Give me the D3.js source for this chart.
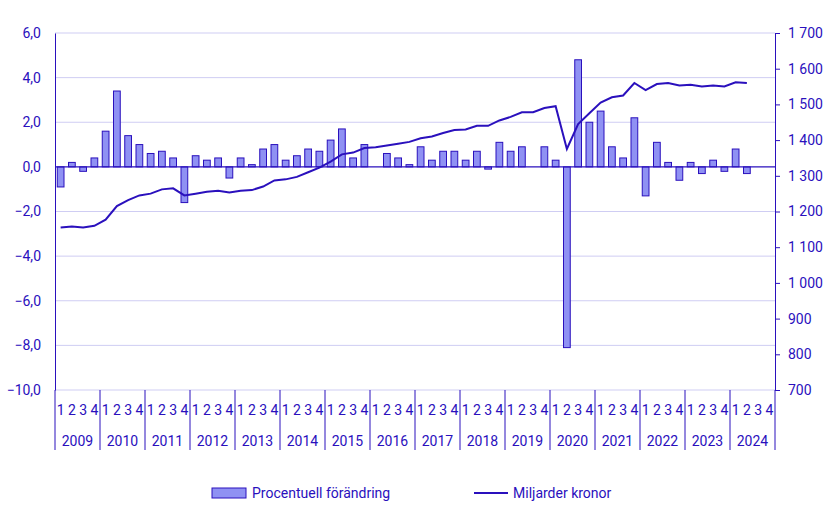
<!DOCTYPE html><html><head><meta charset="utf-8">
<script src="https://cdn.jsdelivr.net/npm/d3@7"></script>
<style>body{margin:0;background:#fff}text{font-family:Roboto,sans-serif}</style></head><body>
<svg id="c" width="831" height="507"></svg>
<script>
const years=[2009,2010,2011,2012,2013,2014,2015,2016,2017,2018,2019,2020,2021,2022,2023,2024];
const quarters=["1","2","3","4"];
const pctChange=[-0.9,0.2,-0.2,0.4, 1.6,3.4,1.4,1.0, 0.6,0.7,0.4,-1.6, 0.5,0.3,0.4,-0.5, 0.4,0.1,0.8,1.0, 0.3,0.5,0.8,0.7, 1.2,1.7,0.4,1.0, 0,0.6,0.4,0.1, 0.9,0.3,0.7,0.7, 0.3,0.7,-0.1,1.1, 0.7,0.9,0,0.9, 0.3,-8.1,4.8,2.0, 2.5,0.9,0.4,2.2, -1.3,1.1,0.2,-0.6, 0.2,-0.3,0.3,-0.2, 0.8,-0.3,null,null];
const billions=[1155,1158,1155,1160, 1177,1215,1232,1245, 1250,1262,1265,1245, 1250,1255,1258,1253, 1258,1260,1270,1287, 1290,1297,1310,1323, 1340,1360,1365,1378, 1380,1385,1390,1395, 1405,1410,1420,1428, 1430,1440,1440,1455, 1465,1478,1478,1490, 1495,1375,1445,1475, 1505,1520,1525,1560, 1540,1557,1560,1553, 1555,1550,1553,1550, 1562,1560,null,null];
const leftTicks=[6,4,2,0,-2,-4,-6,-8,-10];
const rightTicks=[700,800,900,1000,1100,1200,1300,1400,1500,1600,1700];
const C="#2a10bd";
const svg=d3.select("#c");
const X0=55,X1=775,Y0=33,Y1=390;
const keys=[];years.forEach(y=>quarters.forEach(q=>keys.push(y+"-"+q)));
const x=d3.scaleBand().domain(keys).range([X0,X1]).paddingInner(0.4).paddingOuter(0.2);
const yL=d3.scaleLinear().domain([-10,6]).range([Y1,Y0]);
const yR=d3.scaleLinear().domain([700,1700]).range([Y1,Y0]);
const fmt=v=>d3.format(".1f")(v).replace(".",",").replace("-","-");
const fmtR=v=>String(v).replace(/\B(?=(\d{3})+(?!\d))/g," ");
svg.append("g").selectAll("line").data(leftTicks.filter(t=>t!==0)).join("line")
 .attr("x1",X0).attr("x2",X1).attr("y1",d=>yL(d)).attr("y2",d=>yL(d)).attr("stroke","#cfcdf3");
const la=svg.append("g").attr("transform",`translate(${X0},0)`).call(d3.axisLeft(yL).tickValues(leftTicks).tickFormat(fmt).tickSize(0).tickPadding(14));
la.select(".domain").attr("stroke",C);la.selectAll("text").attr("fill",C).attr("font-size",14);
const ra=svg.append("g").attr("transform",`translate(${X1},0)`).call(d3.axisRight(yR).tickValues(rightTicks).tickFormat(fmtR).tickSize(5).tickPadding(8));
ra.select(".domain").attr("stroke",C);ra.selectAll("line").attr("stroke",C);ra.selectAll("text").attr("fill",C).attr("font-size",14);
svg.append("g").selectAll("rect").data(keys.map((k,i)=>({k,v:pctChange[i]})).filter(d=>d.v!==null&&d.v!==0)).join("rect")
 .attr("x",d=>x(d.k)).attr("width",x.bandwidth()).attr("y",d=>yL(Math.max(0,d.v))).attr("height",d=>Math.abs(yL(d.v)-yL(0)))
 .attr("fill","#8f91f3").attr("stroke",C).attr("stroke-width",1);
svg.append("line").attr("x1",X0).attr("x2",X1).attr("y1",yL(0)).attr("y2",yL(0)).attr("stroke",C).attr("stroke-width",1.2);
const ld=keys.map((k,i)=>({k,v:billions[i]})).filter(d=>d.v!==null);
svg.append("path").datum(ld).attr("fill","none").attr("stroke",C).attr("stroke-width",2)
 .attr("d",d3.line().x(d=>x(d.k)+x.bandwidth()/2).y(d=>yR(d.v)));
const yw=(X1-X0)/years.length;
const g=svg.append("g");
years.forEach((yr,i)=>{
 g.append("line").attr("x1",X0+i*yw).attr("x2",X0+i*yw).attr("y1",Y1).attr("y2",450).attr("stroke",C);
 quarters.forEach((q,j)=>g.append("text").attr("x",X0+i*yw+(j+0.5)*yw/4).attr("y",415).attr("text-anchor","middle").attr("font-size",14).attr("fill",C).text(q));
 g.append("text").attr("x",X0+(i+0.5)*yw).attr("y",446).attr("text-anchor","middle").attr("font-size",14).attr("fill",C).text(yr);
});
g.append("line").attr("x1",X1).attr("x2",X1).attr("y1",Y1).attr("y2",450).attr("stroke",C);
const lg=svg.append("g");
lg.append("rect").attr("x",212).attr("y",488).attr("width",34).attr("height",10).attr("fill","#8f91f3").attr("stroke",C);
lg.append("text").attr("x",252).attr("y",498).attr("font-size",14).attr("fill",C).text("Procentuell förändring");
lg.append("line").attr("x1",474).attr("x2",508).attr("y1",493).attr("y2",493).attr("stroke",C).attr("stroke-width",2);
lg.append("text").attr("x",513).attr("y",498).attr("font-size",14).attr("fill",C).text("Miljarder kronor");
</script></body></html>
